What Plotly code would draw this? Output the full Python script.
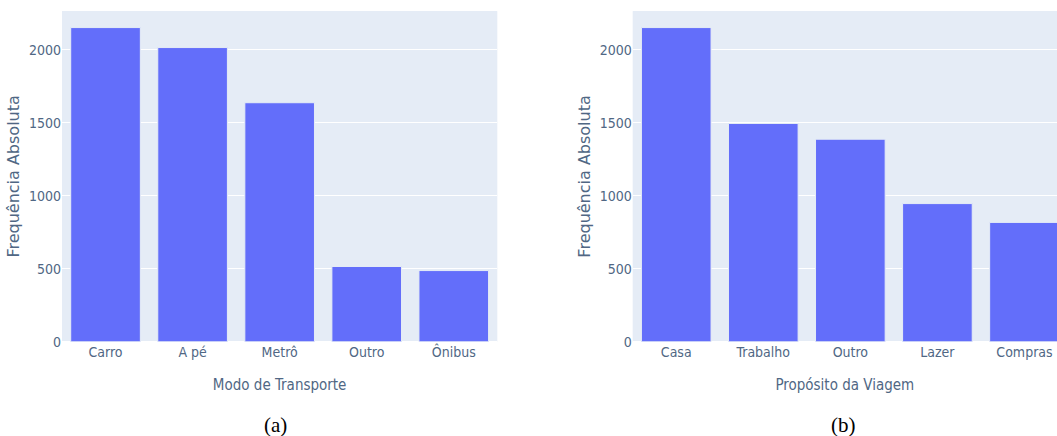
import plotly.graph_objects as go

modo_categorias = ["Carro", "A pé", "Metrô", "Outro", "Ônibus"]
modo_valores = [2153, 2016, 1638, 516, 488]

proposito_categorias = ["Casa", "Trabalho", "Outro", "Lazer", "Compras"]
proposito_valores = [2153, 1496, 1388, 947, 818]

W, H = 1057, 436
HR = 427  # effective rendered height observed
TICK_FONT = dict(family="Liberation Sans Narrow, DejaVu Sans Condensed, Roboto Condensed, Open Sans", size=14, color="#506784")
YTITLE_FONT = dict(family="DejaVu Sans, sans-serif", size=16, color="#506784")
XTITLE_FONT = dict(family="Liberation Sans Narrow, DejaVu Sans Condensed, Roboto Condensed, Open Sans", size=15, color="#506784")

fig = go.Figure()
fig.add_trace(go.Bar(x=modo_categorias, y=modo_valores, xaxis="x", yaxis="y",
                     marker=dict(color="#636efa", line=dict(color="#E5ECF6", width=1)), showlegend=False))
fig.add_trace(go.Bar(x=proposito_categorias, y=proposito_valores, xaxis="x2", yaxis="y2",
                     marker=dict(color="#636efa", line=dict(color="#E5ECF6", width=1)), showlegend=False))

y_dom = [1 - 341 / HR, 1 - 11 / HR]
x1_dom = [62 / W, 497.3 / W]
x2_dom = [632.7 / W, 1.0]
cat_px = (497.3 - 62) / 5
x2_max = -0.5 + (W - 632.7) / cat_px

fig.update_layout(
    template="plotly",
    width=W, height=H,
    margin=dict(l=0, r=0, t=0, b=0),
    paper_bgcolor="white",
    plot_bgcolor="#E5ECF6",
    bargap=0.2,
    xaxis=dict(domain=x1_dom, anchor="y", tickfont=TICK_FONT,
               title=dict(text="Modo de Transporte", font=XTITLE_FONT, standoff=20)),
    yaxis=dict(domain=y_dom, anchor="x", tickfont=TICK_FONT, tickvals=[0, 500, 1000, 1500, 2000],
               title=dict(text="Frequência Absoluta", font=YTITLE_FONT, standoff=5)),
    xaxis2=dict(domain=x2_dom, anchor="y2", tickfont=TICK_FONT, range=[-0.5, x2_max],
                title=dict(text="Propósito da Viagem", font=XTITLE_FONT, standoff=20)),
    yaxis2=dict(domain=y_dom, anchor="x2", tickfont=TICK_FONT, tickvals=[0, 500, 1000, 1500, 2000],
                title=dict(text="Frequência Absoluta", font=YTITLE_FONT, standoff=5)),
    annotations=[
        dict(text="(a)", x=275 / W, y=1 - 424 / HR, xref="paper", yref="paper",
             showarrow=False, xanchor="center", yanchor="middle",
             font=dict(family="Liberation Serif, Times New Roman, serif", size=21, color="black")),
        dict(text="(b)", x=843.5 / W, y=1 - 424 / HR, xref="paper", yref="paper",
             showarrow=False, xanchor="center", yanchor="middle",
             font=dict(family="Liberation Serif, Times New Roman, serif", size=21, color="black")),
    ],
)

fig.write_html("out.html")
